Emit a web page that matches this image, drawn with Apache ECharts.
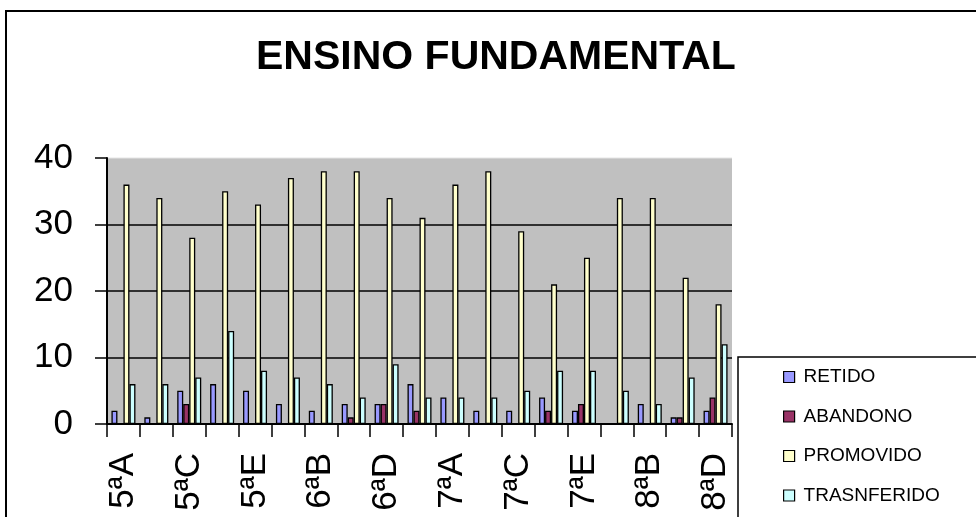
<!DOCTYPE html>
<html>
<head>
<meta charset="utf-8">
<script src="https://cdn.jsdelivr.net/npm/echarts@6/dist/echarts.min.js"></script>
<style>
html,body{margin:0;padding:0;background:#fff;}
#chart{width:976px;height:517px;}
</style>
</head>
<body>
<div id="chart"></div>
<script>
var categories = ['5ªA','5ªB','5ªC','5ªD','5ªE','6ªA','6ªB','6ªC','6ªD','6ªE','7ªA','7ªB','7ªC','7ªD','7ªE','8ªA','8ªB','8ªC','8ªD'];
var retido      = [2,1,5,6,5,3,2,3,3,6,4,2,2,4,2,0,3,1,2];
var abandono    = [0,0,3,0,0,0,0,1,3,2,0,0,0,2,3,0,0,1,4];
var promovido   = [36,34,28,35,33,37,38,38,34,31,36,38,29,21,25,34,34,22,18];
var transferido = [6,6,7,14,8,7,6,4,9,4,4,4,5,8,8,5,3,7,12];
var seriesNames = ['RETIDO','ABANDONO','PROMOVIDO','TRASNFERIDO'];
var yTicks = [0,10,20,30,40];

var FONT = "'Liberation Sans', Arial, sans-serif";
var colors = ['#9999FF','#993366','#FFFFCC','#CCFFFF'];
var seriesData = [retido, abandono, promovido, transferido];

var chart = echarts.init(document.getElementById('chart'), null, {renderer:'canvas'});
var option = {
  animation: false,
  backgroundColor: '#ffffff',
  title: {
    text: 'ENSINO FUNDAMENTAL',
    left: 256,
    top: 37,
    padding: 0,
    textStyle: {fontFamily: FONT, fontSize: 41, fontWeight: 'bold', color: '#000'}
  },
  graphic: [
    {type:'rect', z: 0, shape:{x:6, y:11, width:1100, height:700}, style:{fill:'none', stroke:'#000', lineWidth:2}},
    {type:'rect', z: 3, shape:{x:738, y:357, width:400, height:300}, style:{fill:'#fff', stroke:'#000', lineWidth:1.5}},
    {type:'line', z: 3, shape:{x1:108, y1:158, x2:732, y2:158}, style:{stroke:'#e4e4e4', lineWidth:1}}
  ],
  legend: {
    orient: 'vertical',
    left: 783,
    top: 367,
    padding: 0,
    itemWidth: 11,
    itemHeight: 11,
    itemGap: 19.5,
    icon: 'rect',
    z: 5,
    itemStyle: {borderColor:'#000', borderWidth:1.2},
    textStyle: {fontFamily: FONT, fontSize: 19, color:'#000', lineHeight: 20, padding:[0,0,0,4]},
    data: seriesNames
  },
  grid: {
    left: 107, right: 244, top: 158, bottom: 93,
    show: true, backgroundColor: '#c0c0c0', borderWidth: 0
  },
  xAxis: {
    type: 'category',
    data: categories,
    boundaryGap: true,
    axisLine: {show:true, lineStyle:{color:'#000', width:2}},
    axisTick: {show:true, interval:0, length:13, inside:false, alignWithLabel:false, lineStyle:{color:'#000', width:1.5}},
    axisLabel: {interval:1, rotate:90, margin:29, fontFamily: FONT, fontSize:35, color:'#000'},
    splitLine: {show:false}
  },
  yAxis: {
    type: 'value',
    min: yTicks[0], max: yTicks[yTicks.length-1], interval: 10,
    axisLine: {show:true, lineStyle:{color:'#000', width:2}},
    axisTick: {show:true, length:12, lineStyle:{color:'#000', width:1.5}},
    axisLabel: {margin:34, fontFamily: FONT, fontSize:35, color:'#000'},
    splitLine: {show:true, showMaxLine:false, lineStyle:{color:'#000', width:1.5}}
  },
  series: seriesNames.map(function(name, i){
    return {
      name: name,
      type: 'bar',
      data: seriesData[i],
      barGap: '0%',
      barCategoryGap: '27%',
      itemStyle: {color: colors[i], borderColor:'#000', borderWidth:1.3},
      emphasis: {disabled:true}
    };
  })
};
chart.setOption(option);
</script>
</body>
</html>
